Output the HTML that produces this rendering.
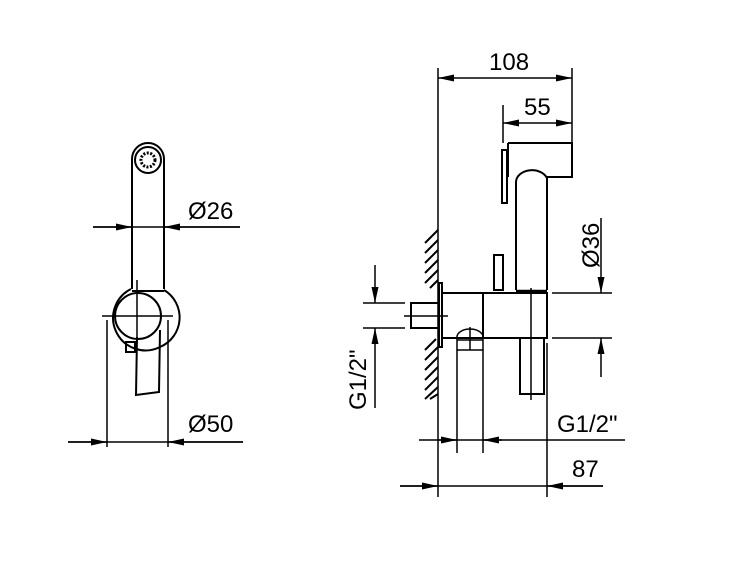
<html><body style="margin:0;background:#fff">
<svg width="750" height="563" viewBox="0 0 750 563" xmlns="http://www.w3.org/2000/svg" style="display:block">
<defs>
<marker id="a" viewBox="0 0 16 7" refX="16" refY="3.5" markerWidth="16" markerHeight="7" markerUnits="userSpaceOnUse" orient="auto-start-reverse"><path d="M0,0L16,3.5L0,7z" fill="#000"/></marker>
</defs>
<g fill="none" stroke="#000" stroke-width="2">
<!-- LEFT VIEW -->
<path d="M132,289V159A16,16 0 0 1 164,159V289"/>
<circle cx="148" cy="160" r="13"/>
<circle cx="148" cy="160" r="7" stroke-dasharray="2 1.5" stroke-width="3"/>
<path d="M132,291H164"/>
<path d="M131,289A32,32 0 0 0 160,347"/>
<path d="M164,290A32,32 0 0 1 160,347"/>
<circle cx="138" cy="316" r="23"/>
<path d="M102,316H173M137,280V343" stroke-width="1.5"/>
<path d="M137,337L136,395L159,392L160,330"/>
<rect x="126" y="342" width="9" height="10"/>
<path d="M107,320V447M168,320V447" stroke-width="1.5"/>
<path d="M93,227H240" stroke-width="1.5"/>
<path d="M93,227H132" stroke-width="1.5" marker-end="url(#a)"/>
<path d="M240,227H164" stroke-width="1.5" marker-end="url(#a)"/>
<path d="M68,442H243" stroke-width="1.5"/>
<path d="M68,442H107" stroke-width="1.5" marker-end="url(#a)"/>
<path d="M243,442H168" stroke-width="1.5" marker-end="url(#a)"/>

<!-- RIGHT VIEW -->
<path d="M438,68V497" stroke-width="1.5"/>
<path d="M572,68V177" stroke-width="1.5"/>
<path d="M503,105V143" stroke-width="1.5"/>
<path d="M438,78H572" stroke-width="1.5" marker-start="url(#a)" marker-end="url(#a)"/>
<path d="M503,123H572" stroke-width="1.5" marker-start="url(#a)" marker-end="url(#a)"/>
<path d="M508,143H572V177H547"/>
<path d="M508,143V177"/>
<rect x="502" y="150" width="5" height="53"/>
<path d="M516,290V182A16,12 0 0 1 547,178V290"/>
<path d="M516,291H547" stroke-width="2.5"/>
<rect x="494" y="255" width="9" height="35"/>
<path d="M442,293H547V338H442"/>
<path d="M483,293V338"/>
<rect x="439" y="283" width="3" height="64"/>
<rect x="411" y="303" width="28" height="25"/>
<path d="M404,316H448" stroke-width="1.5"/>
<path d="M531,288V400" stroke-width="1.5"/>
<path d="M520,338V394H544V338"/>
<path d="M547,343V497" stroke-width="1.5"/>
<path d="M457,350V337A13,8 0 0 1 483,337V350ZM470,327V350M457,340H483" stroke-width="1.5"/>
<path d="M457,350V453M483,350V453" stroke-width="1.5"/>
<g stroke-width="2">
<path d="M425,243L438,230M425,253L438,240M425,263L438,250M425,273L438,260M425,283L438,270M430,288L438,280"/>
<path d="M425,350L436,339M425,360L438,347M425,370L438,357M425,380L438,367M425,390L438,377M425,399L438,387M430,399L438,394"/>
</g>
<path d="M552,293H612M552,338H612" stroke-width="1.5"/>
<path d="M601,218V293" stroke-width="1.5" marker-end="url(#a)"/>
<path d="M601,377V338" stroke-width="1.5" marker-end="url(#a)"/>
<path d="M363,303H405M363,328H405" stroke-width="1.5"/>
<path d="M375,265V303" stroke-width="1.5" marker-end="url(#a)"/>
<path d="M375,408V328" stroke-width="1.5" marker-end="url(#a)"/>
<path d="M419,440H625" stroke-width="1.5"/>
<path d="M438,440H457" stroke-width="1.5" marker-end="url(#a)"/>
<path d="M502,440H483" stroke-width="1.5" marker-end="url(#a)"/>
<path d="M400,486H603" stroke-width="1.5"/>
<path d="M400,486H438" stroke-width="1.5" marker-end="url(#a)"/>
<path d="M603,486H547" stroke-width="1.5" marker-end="url(#a)"/>
</g>
<g font-family="Liberation Sans, sans-serif" font-size="24" fill="#000">
<text x="188" y="219">Ø26</text>
<text x="188" y="432">Ø50</text>
<text x="489" y="70">108</text>
<text x="524" y="115">55</text>
<text x="557" y="432">G1/2"</text>
<text x="572" y="477">87</text>
<text transform="translate(599,268) rotate(-90)">Ø36</text>
<text transform="translate(366,410) rotate(-90)">G1/2"</text>
</g>
</svg>
</body></html>
